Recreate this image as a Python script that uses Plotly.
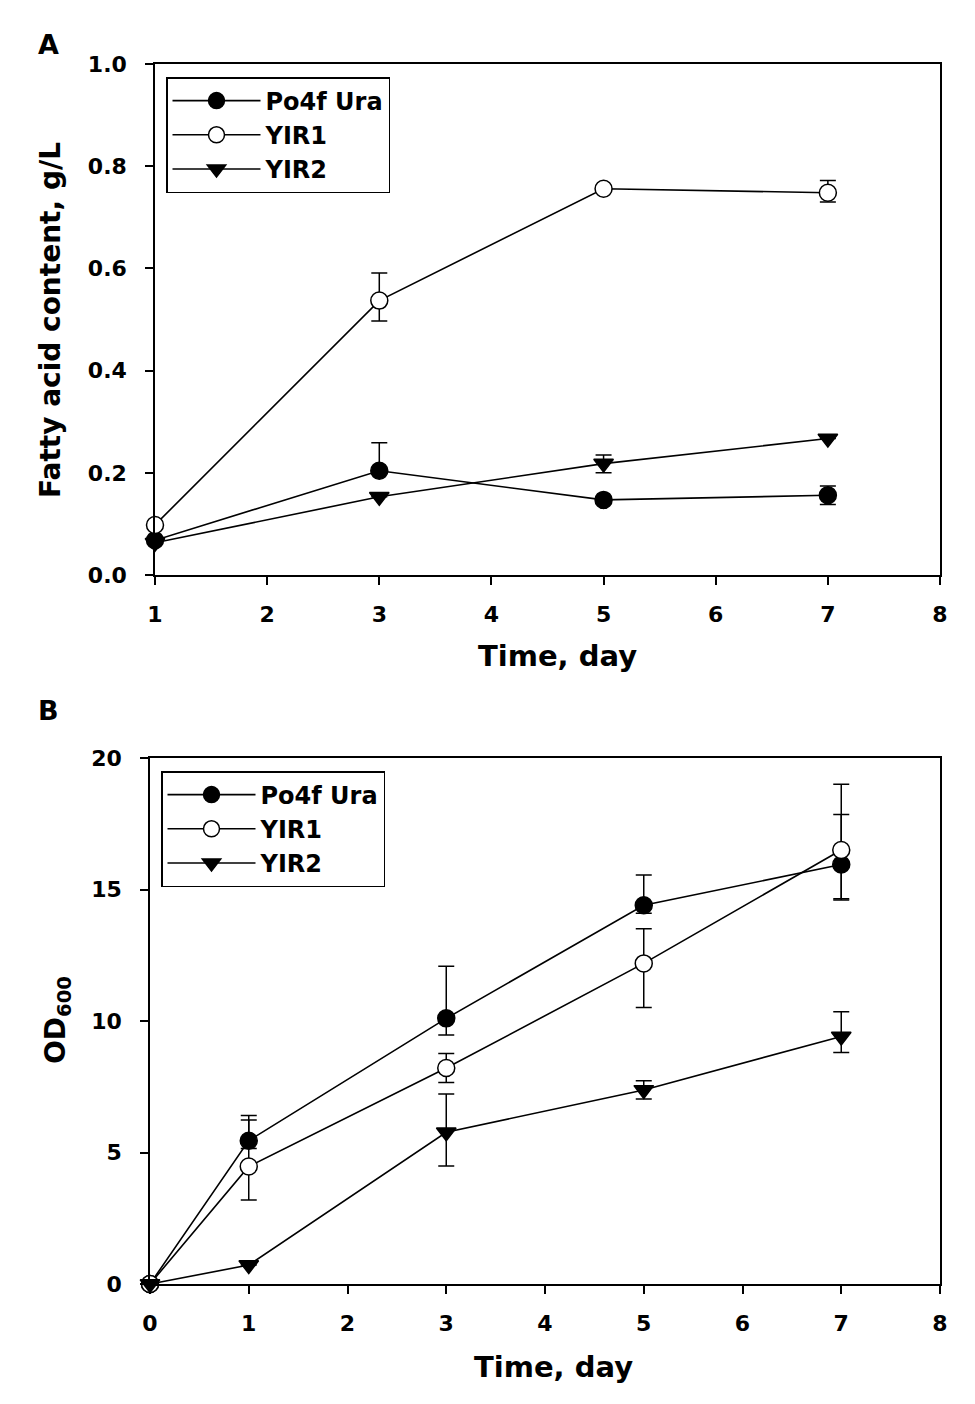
import plotly.graph_objects as go

# panel A - fatty acid content (g/L)
days_a = [1, 3, 5, 7]
po4f_fa = [0.068, 0.204, 0.147, 0.156]
po4f_fa_up = [0, 0.055, 0, 0.018]
po4f_fa_dn = [0, 0, 0, 0.018]
yir1_fa = [0.098, 0.537, 0.756, 0.748]
yir1_fa_up = [0, 0.054, 0, 0.024]
yir1_fa_dn = [0, 0.040, 0, 0.018]
yir2_fa = [0.063, 0.153, 0.218, 0.267]
yir2_fa_up = [0, 0, 0.017, 0]
yir2_fa_dn = [0, 0, 0.018, 0]

# panel B - OD600
days_b = [0, 1, 3, 5, 7]
po4f_od = [0, 5.45, 10.1, 14.4, 15.95]
po4f_od_up = [0, 0.96, 1.98, 1.15, 1.9]
po4f_od_dn = [0, 0.3, 0.63, 0.3, 1.3]
yir1_od = [0, 4.47, 8.21, 12.19, 16.5]
yir1_od_up = [0, 1.77, 0.55, 1.32, 2.5]
yir1_od_dn = [0, 1.28, 0.55, 1.68, 1.9]
yir2_od = [0, 0.72, 5.77, 7.38, 9.41]
yir2_od_up = [0, 0, 1.45, 0.35, 0.94]
yir2_od_dn = [0, 0, 1.28, 0.35, 0.61]

names = ["Po4f Ura", "YIR1", "YIR2"]
symbols = ["circle", "circle", "triangle-down"]
fills = ["black", "white", "black"]

W, H = 975, 1404


def px_x(p):
    return p / W


def px_y(p):
    return 1 - p / H


fig = go.Figure()

panel_a = [(po4f_fa, po4f_fa_up, po4f_fa_dn), (yir1_fa, yir1_fa_up, yir1_fa_dn),
           (yir2_fa, yir2_fa_up, yir2_fa_dn)]
panel_b = [(po4f_od, po4f_od_up, po4f_od_dn), (yir1_od, yir1_od_up, yir1_od_dn),
           (yir2_od, yir2_od_up, yir2_od_dn)]

for days, panel, xa, ya, leg in [(days_a, panel_a, "x", "y", "legend"),
                                 (days_b, panel_b, "x2", "y2", "legend2")]:
    for (vals, up, dn), name, sym, fill in zip(panel, names, symbols, fills):
        fig.add_trace(go.Scatter(
            x=days, y=vals, name=name, mode="lines+markers",
            xaxis=xa, yaxis=ya, legend=leg, cliponaxis=False,
            line=dict(color="black", width=1.6),
            marker=dict(symbol=sym, size=17, color=fill,
                        line=dict(color="black", width=1.5)),
            error_y=dict(type="data", symmetric=False, array=up, arrayminus=dn,
                         color="black", thickness=1.5, width=8),
        ))

axis_common = dict(showgrid=False, zeroline=False, showline=True, mirror=True,
                   linecolor="black", linewidth=1.5, ticks="outside", ticklen=8,
                   tickwidth=1.5, tickcolor="black", tickfont=dict(size=22),
                   automargin=False)

legend_common = dict(xanchor="left", yanchor="top", bordercolor="black",
                     borderwidth=1.5, bgcolor="white", font=dict(size=24),
                     itemwidth=88)

fig.update_layout(
    width=W, height=H,
    margin=dict(l=0, r=0, t=0, b=0),
    paper_bgcolor="white", plot_bgcolor="white",
    font=dict(family="DejaVu Sans", weight="bold", color="black"),
    xaxis=dict(domain=[px_x(155), px_x(940)], range=[1, 8], dtick=1, anchor="y",
               ticklabelstandoff=11, **axis_common),
    yaxis=dict(domain=[px_y(575), px_y(64)], range=[0, 1.0], dtick=0.2,
               tickformat=".1f", anchor="x", ticklabelstandoff=14, **axis_common),
    xaxis2=dict(domain=[px_x(150), px_x(940)], range=[0, 8], dtick=1, anchor="y2",
                ticklabelstandoff=11, **axis_common),
    yaxis2=dict(domain=[px_y(1284), px_y(758)], range=[0, 20], dtick=5,
                anchor="x2", ticklabelstandoff=14, **axis_common),
    legend=dict(x=px_x(166), y=px_y(77), **legend_common),
    legend2=dict(x=px_x(161), y=px_y(771), **legend_common),
    showlegend=True,
)

labels = [
    ("A", 48, 45, 27, 0),
    ("B", 48, 710, 27, 0),
    ("Time, day", 557, 656, 29, 0),
    ("Time, day", 553, 1367, 29, 0),
    ("Fatty acid content, g/L", 50, 320, 28, -90),
    ("OD<sub>600</sub>", 57, 1020, 28, -90),
]
for text, x, y, size, ang in labels:
    fig.add_annotation(text=text, x=px_x(x), y=px_y(y), xref="paper", yref="paper",
                       showarrow=False, xanchor="center", yanchor="middle",
                       textangle=ang, font=dict(size=size))

# drop the default page margin so the figure sits at the window origin
fig.write_html("out.html", config={"displayModeBar": False},
               post_script="document.body.style.margin='0';")
